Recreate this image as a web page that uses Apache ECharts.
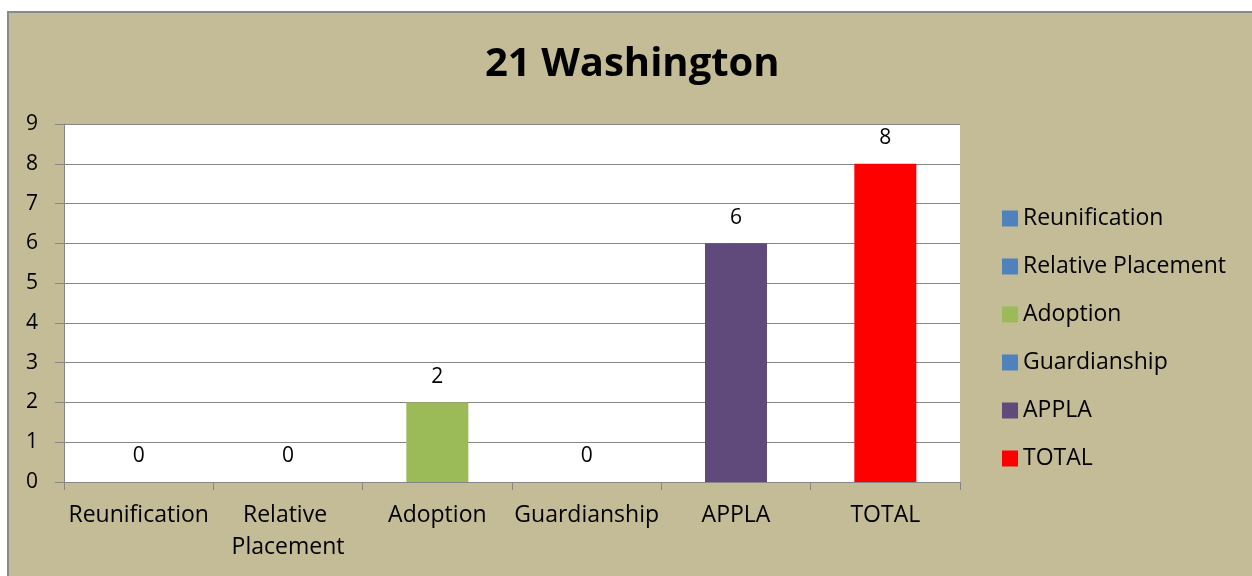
<!DOCTYPE html>
<html>
<head>
<meta charset="utf-8">
<script src="https://cdn.jsdelivr.net/npm/echarts@6/dist/echarts.min.js"></script>
<style>
html, body { margin: 0; padding: 0; background: #fff; }
#main { width: 1252px; height: 576px; }
</style>
</head>
<body>
<div id="main"></div>
<script>
var categories = ['Reunification', 'Relative Placement', 'Adoption', 'Guardianship', 'APPLA', 'TOTAL'];
var values = [0, 0, 2, 0, 6, 8];
var colors = ['#4F81BD', '#4F81BD', '#9BBB59', '#4F81BD', '#604A7B', '#FF0000'];
var yTicks = [0, 9, 1]; // min, max, interval

var font = '"Open Sans", Lato, sans-serif';
var chart = echarts.init(document.getElementById('main'));

// one series per category so each gets its own legend entry
var series = categories.map(function (name, i) {
    var d = categories.map(function (c, j) { return j === i ? values[i] : '-'; });
    return {
        name: name,
        type: 'bar',
        data: d,
        barWidth: 62,
        barGap: '-100%',
        itemStyle: { color: colors[i] },
        label: {
            show: true,
            position: 'top',
            distance: 15,
            color: '#000',
            fontSize: 21,
            fontFamily: font
        }
    };
});

var option = {
    animation: false,
    backgroundColor: 'transparent',
    graphic: [{
        type: 'rect',
        z: -10,
        shape: { x: 8, y: 12, width: 1300, height: 620 },
        style: { fill: '#C4BC96', stroke: '#8A8A8A', lineWidth: 2 }
    }],
    title: {
        text: '21 Washington',
        left: 480,
        top: 40,
        textStyle: { fontSize: 40, fontWeight: 'bold', color: '#000', fontFamily: font }
    },
    legend: {
        orient: 'vertical',
        left: 997,
        top: 202,
        itemWidth: 16,
        itemHeight: 16,
        itemGap: 25,
        icon: 'rect',
        data: categories,
        textStyle: { fontSize: 23, color: '#000', fontFamily: font }
    },
    grid: {
        left: 64,
        right: 292,
        top: 124,
        bottom: 94,
        show: true,
        backgroundColor: '#fff',
        borderWidth: 0,
        containLabel: false
    },
    xAxis: {
        type: 'category',
        data: categories,
        axisLine: { lineStyle: { color: '#868686', width: 1 } },
        axisTick: { show: true, length: 8, lineStyle: { color: '#868686' } },
        axisLabel: {
            color: '#000',
            fontSize: 23,
            fontFamily: font,
            margin: 17,
            interval: 0,
            width: 148,
            overflow: 'break',
            lineHeight: 32
        }
    },
    yAxis: {
        type: 'value',
        min: yTicks[0],
        max: yTicks[1],
        interval: yTicks[2],
        axisLine: { show: true, lineStyle: { color: '#868686' } },
        axisTick: { show: true, length: 9, lineStyle: { color: '#868686' } },
        splitLine: { lineStyle: { color: '#868686' } },
        axisLabel: { color: '#000', fontSize: 21, fontFamily: font, margin: 26 }
    },
    series: series
};
chart.setOption(option);
</script>
</body>
</html>
